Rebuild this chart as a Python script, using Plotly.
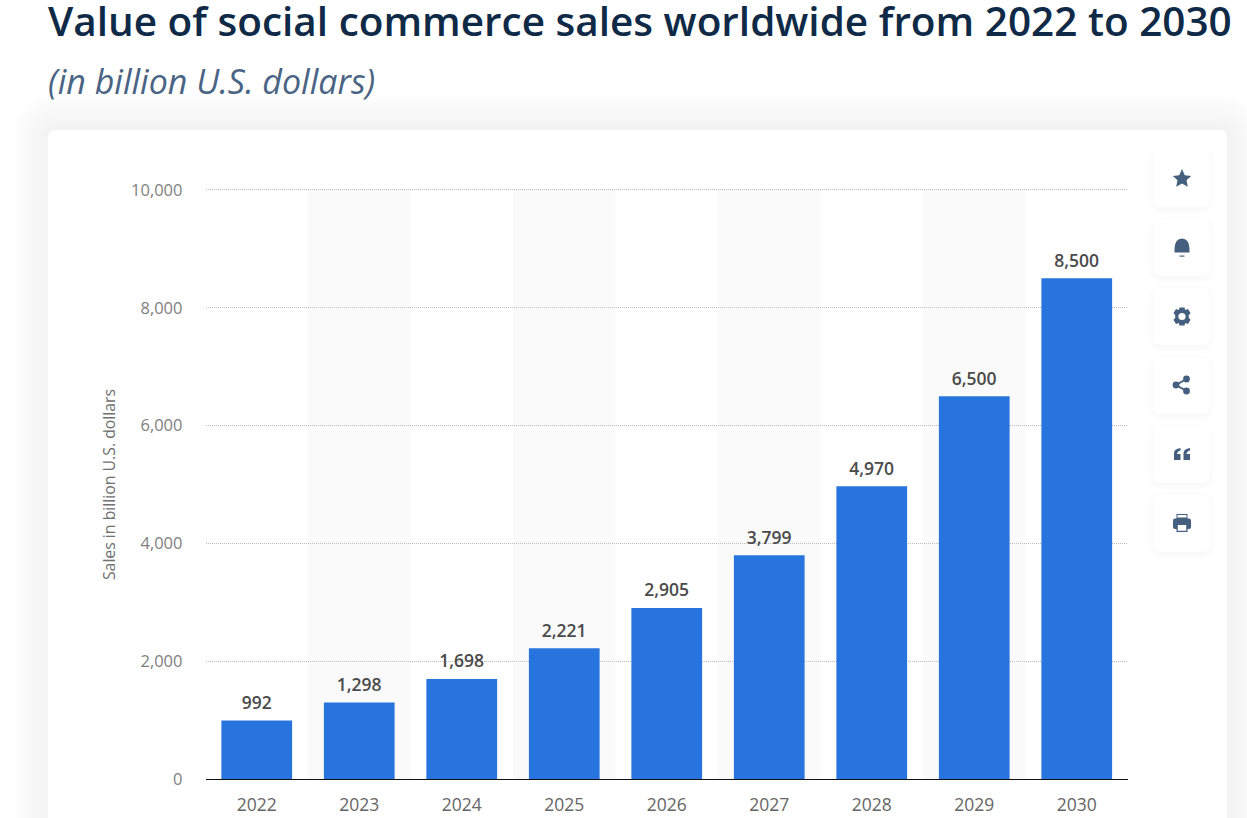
import plotly.graph_objects as go

W = 1247
H = 818

years = ['2022', '2023', '2024', '2025', '2026', '2027', '2028', '2029', '2030']
sales = [992, 1298, 1698, 2221, 2905, 3799, 4970, 6500, 8500]
y_ticks = [0, 2000, 4000, 6000, 8000, 10000]
y_ticklabels = ['0', '2,000', '4,000', '6,000', '8,000', '10,000']

title_text = 'Value of social commerce sales worldwide from 2022 to 2030'
subtitle_text = '(in billion U.S. dollars)'
y_title = 'Sales in billion U.S. dollars'

FONT = 'Open Sans'
BLUE = '#2874de'
ICON = '#45607f'
DOTS = '1px,1px'
GRID = '#bababa'


def px(x):
    return x / W


def py(y):
    return 1 - y / H


def path_from(points):
    # points are in screen pixels. plotly wants one command per point for L
    out = []
    last = None
    seen = 0
    for p in points:
        if isinstance(p, str):
            out.append(p)
            last = p
            seen = 0
        else:
            if last == 'L' and seen > 0:
                out.append('L')
            out.append('%.5f,%.5f' % (px(p[0]), py(p[1])))
            seen += 1
    return ' '.join(out)


def rounded(x0, y0, x1, y1, r):
    return path_from([
        'M', (x0 + r, y0), 'L', (x1 - r, y0),
        'Q', (x1, y0), (x1, y0 + r), 'L', (x1, y1 - r),
        'Q', (x1, y1), (x1 - r, y1), 'L', (x0 + r, y1),
        'Q', (x0, y1), (x0, y1 - r), 'L', (x0, y0 + r),
        'Q', (x0, y0), (x0 + r, y0), 'Z'])


def box(x0, y0, x1, y1, r, color, line=None):
    return dict(type='path', xref='paper', yref='paper', layer='below',
                path=rounded(x0, y0, x1, y1, r), fillcolor=color,
                line=dict(width=0 if line is None else 1, color=line or color))


def icon(points, color=ICON):
    return dict(type='path', xref='paper', yref='paper', layer='above',
                path=path_from(points), fillcolor=color, line=dict(width=0))


def circle(cx, cy, r, color=ICON):
    return dict(type='circle', xref='paper', yref='paper', layer='above',
                x0=px(cx - r), x1=px(cx + r), y0=py(cy + r), y1=py(cy - r),
                fillcolor=color, line=dict(width=0))


shapes = []

# soft shadow around the card
for grow in range(36, 0, -3):
    shapes.append(box(48 - grow, 130 - grow, 1227 + grow, H + 60, 8 + grow, 'rgba(40,60,100,0.0045)'))
shapes.append(box(48, 130, 1227, H + 60, 8, '#ffffff'))

# alternating column bands
for i in range(1, len(years), 2):
    shapes.append(dict(type='rect', xref='x', yref='y', layer='below',
                       x0=i - 0.5, x1=i + 0.5, y0=y_ticks[0], y1=y_ticks[-1],
                       fillcolor='#fafafa', line=dict(width=0)))

# plotly drops the gridline sitting on the end of the range, so draw that one here
shapes.append(dict(type='line', xref='paper', yref='paper', layer='below',
                   x0=px(206), x1=px(1128), y0=py(189.5), y1=py(189.5),
                   line=dict(width=1, color=GRID, dash=DOTS)))

# buttons on the right
button_tops = [150, 219, 288, 357, 426, 495]
for top in button_tops:
    for grow in [5, 4, 3, 2, 1]:
        shapes.append(box(1153 - grow, top - grow + 2, 1210 + grow, top + 57 + grow + 2, 8 + grow, 'rgba(40,60,100,0.005)'))
    shapes.append(box(1153, top, 1210, top + 57, 8, '#ffffff'))

cx = 1182

# star
cy = 178.5
shapes.append(icon(['M', (cx, cy - 9.5), 'L', (cx + 2.8, cy - 3.2), (cx + 9.2, cy - 2.6),
                    (cx + 4.5, cy + 1.8), (cx + 5.8, cy + 8.2), (cx, cy + 5), (cx - 5.8, cy + 8.2),
                    (cx - 4.5, cy + 1.8), (cx - 9.2, cy - 2.6), (cx - 2.8, cy - 3.2), 'Z']))

# bell
cy = 247.5
shapes.append(icon(['M', (cx - 7.5, cy + 5), 'L', (cx - 7.5, cy + 1),
                    'Q', (cx - 7, cy - 9), (cx, cy - 9), 'Q', (cx + 7, cy - 9), (cx + 7.5, cy + 1),
                    'L', (cx + 7.5, cy + 5), 'Z']))
shapes.append(icon(['M', (cx - 2.5, cy + 8), 'L', (cx + 2.5, cy + 8), (cx + 2.5, cy + 9.2), (cx - 2.5, cy + 9.2), 'Z']))

# gear
cy = 316.5
shapes.append(icon(['M', (cx - 2.5, cy - 9), 'L', (cx + 2.5, cy - 9), (cx + 3.2, cy - 6.6), (cx + 6, cy - 7.4),
                    (cx + 8.6, cy - 3.2), (cx + 6.8, cy - 1.6), (cx + 6.8, cy + 1.6), (cx + 8.6, cy + 3.2),
                    (cx + 6, cy + 7.4), (cx + 3.2, cy + 6.6), (cx + 2.5, cy + 9), (cx - 2.5, cy + 9),
                    (cx - 3.2, cy + 6.6), (cx - 6, cy + 7.4), (cx - 8.6, cy + 3.2), (cx - 6.8, cy + 1.6),
                    (cx - 6.8, cy - 1.6), (cx - 8.6, cy - 3.2), (cx - 6, cy - 7.4), (cx - 3.2, cy - 6.6), 'Z']))
shapes.append(circle(cx, cy, 3.6, '#ffffff'))

# share
cy = 385
for dx, dy in [(-6, 0), (4.5, -6), (4.5, 6)]:
    shapes.append(circle(cx + dx, cy + dy, 3.4))
shapes.append(dict(type='path', xref='paper', yref='paper', layer='above',
                   path=path_from(['M', (cx + 4.5, cy - 6), 'L', (cx - 6, cy), (cx + 4.5, cy + 6)]),
                   line=dict(width=2, color=ICON)))

# quotes
cy = 454
for dx in [-8, 1.5]:
    shapes.append(icon(['M', (cx + dx, cy + 6), 'L', (cx + dx, cy - 1),
                        'Q', (cx + dx, cy - 5), (cx + dx + 6.5, cy - 6), 'L', (cx + dx + 6.5, cy - 3.6),
                        'Q', (cx + dx + 3.4, cy - 3), (cx + dx + 3, cy), 'L', (cx + dx + 6.5, cy),
                        (cx + dx + 6.5, cy + 6), 'Z']))

# printer
cy = 523
shapes.append(icon(['M', (cx - 5.5, cy - 9), 'L', (cx + 5.5, cy - 9), (cx + 5.5, cy - 4), (cx - 5.5, cy - 4), 'Z']))
shapes.append(box(cx - 9, cy - 4.5, cx + 9, cy + 6, 2, ICON))
shapes[-1]['layer'] = 'above'
shapes.append(icon(['M', (cx - 4.5, cy - 8), 'L', (cx + 4.5, cy - 8), (cx + 4.5, cy - 5.5), (cx - 4.5, cy - 5.5), 'Z'], '#ffffff'))
shapes.append(icon(['M', (cx - 5.5, cy + 1), 'L', (cx + 5.5, cy + 1), (cx + 5.5, cy + 9), (cx - 5.5, cy + 9), 'Z']))
shapes.append(icon(['M', (cx - 4.2, cy + 2), 'L', (cx + 4.2, cy + 2), (cx + 4.2, cy + 7.8), (cx - 4.2, cy + 7.8), 'Z'], '#ffffff'))

fig = go.Figure(go.Bar(
    x=years,
    y=sales,
    marker=dict(color=BLUE, line=dict(width=0)),
    hoverinfo='x+y',
))

# labels go on a clear marker trace, bar text sits too close to the bars
fig.add_trace(go.Scatter(
    x=years,
    y=sales,
    mode='markers+text',
    marker=dict(size=10, opacity=0),
    text=['{:,}'.format(v) for v in sales],
    textposition='top center',
    textfont=dict(family=FONT, size=17.5, color='#4a4a4a', weight=600),
    cliponaxis=False,
    hoverinfo='skip',
))

fig.update_layout(
    width=W,
    height=H,
    autosize=False,
    margin=dict(l=0, r=0, t=0, b=0),
    paper_bgcolor='#ffffff',
    plot_bgcolor='rgba(0,0,0,0)',
    showlegend=False,
    bargap=0.31,
    font=dict(family=FONT),
    shapes=shapes,
    xaxis=dict(
        domain=[px(205.5), px(1128)],
        type='category',
        range=[-0.5, len(years) - 0.5],
        automargin=False,
        showgrid=False,
        showline=True,
        linecolor='#111111',
        linewidth=1,
        ticks='',
        ticklabelstandoff=10,
        tickfont=dict(family=FONT, size=17.5, color='#666666'),
    ),
    yaxis=dict(
        domain=[py(779), py(190)],
        range=[y_ticks[0], y_ticks[-1]],
        tickvals=y_ticks,
        ticktext=y_ticklabels,
        automargin=False,
        showgrid=True,
        griddash=DOTS,
        gridcolor=GRID,
        gridwidth=1,
        zeroline=False,
        ticks='',
        ticklabelstandoff=22,
        tickfont=dict(family=FONT, size=16.5, color='#808080'),
        title=dict(text=y_title, font=dict(family=FONT, size=15.8, color='#707070'), standoff=11),
    ),
    annotations=[
        dict(text=title_text, xref='paper', yref='paper', x=px(46), y=py(20),
             xanchor='left', yanchor='middle', showarrow=False,
             font=dict(family=FONT, size=40.5, color='#0f2a47', weight=600)),
        dict(text='<i>' + subtitle_text + '</i>', xref='paper', yref='paper', x=px(46), y=py(81),
             xanchor='left', yanchor='middle', showarrow=False,
             font=dict(family=FONT, size=34, color='#4a6484')),
    ],
)

fig.write_html('out.html', post_script="document.body.style.margin='0';", config=dict(displayModeBar=False))
